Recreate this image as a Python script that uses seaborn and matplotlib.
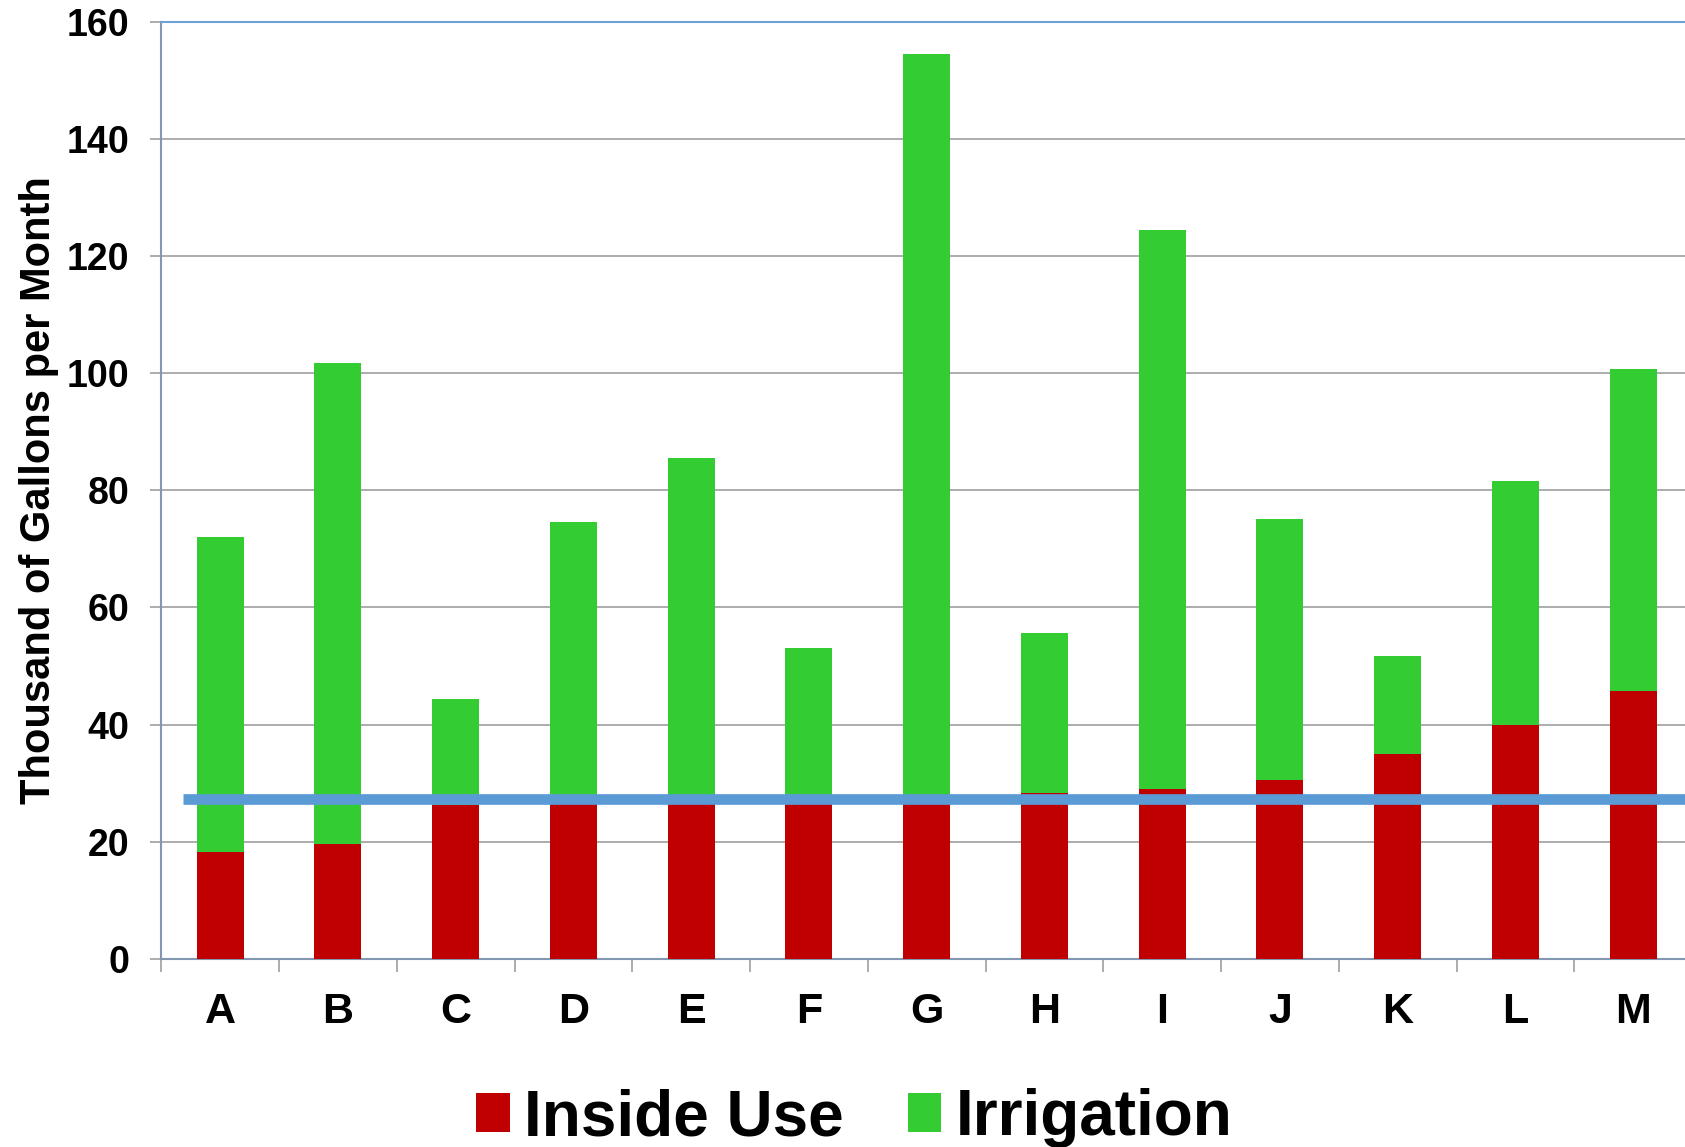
import matplotlib
matplotlib.use("Agg")
import matplotlib.pyplot as plt
import seaborn as sns
import pandas as pd
import numpy as np
from matplotlib.patches import Patch

categories = ["A", "B", "C", "D", "E", "F", "G", "H", "I", "J", "K", "L", "M"]
inside_use = [18.2, 19.6, 26.2, 26.4, 26.8, 26.8, 26.8, 28.3, 29.0, 30.5, 34.9, 39.9, 45.8]
irrigation = [53.8, 82.2, 18.1, 48.2, 58.8, 26.3, 127.7, 27.4, 95.5, 44.6, 16.9, 41.7, 54.9]
reference_line = 27.3
y_ticks = [0, 20, 40, 60, 80, 100, 120, 140, 160]

RED = "#C00000"
GREEN = "#33CC33"
BLUE = "#5B9BD5"

sns.set_theme(style="white")
plt.rcParams["font.family"] = ["Liberation Sans", "DejaVu Sans"]
plt.rcParams["font.weight"] = "bold"
plt.rcParams["text.color"] = "black"
plt.rcParams["axes.labelcolor"] = "black"
plt.rcParams["xtick.labelcolor"] = "black"
plt.rcParams["ytick.labelcolor"] = "black"

df = pd.DataFrame({
    "cat": categories,
    "inside": inside_use,
    "irrigation": irrigation,
})
df["total"] = df["inside"] + df["irrigation"]

fig = plt.figure(figsize=(16.85, 11.47), dpi=100)
ax = fig.add_axes([0.0957, 0.164, 0.9043, 0.817])

sns.barplot(data=df, x="cat", y="total", color=GREEN, width=0.4, ax=ax,
            saturation=1, edgecolor="none", linewidth=0, zorder=2)
sns.barplot(data=df, x="cat", y="inside", color=RED, width=0.4, ax=ax,
            saturation=1, edgecolor="none", linewidth=0, zorder=3)

ax.set_xlim(-0.5, 12.44)
ax.set_ylim(0, 160)
ax.set_yticks(y_ticks)
ax.set_yticklabels([str(v) for v in y_ticks])

ax.axhline(reference_line, xmin=0.0145, xmax=1.0, color=BLUE, linewidth=7.7,
           zorder=4, solid_capstyle="butt")

ax.yaxis.grid(True, color="#A6A6A6", linewidth=1.3, zorder=0)
ax.set_axisbelow(True)

ax.spines["right"].set_visible(False)
ax.spines["top"].set_color("#6FA0D8")
ax.spines["top"].set_linewidth(1.5)
ax.spines["left"].set_color("#8497B0")
ax.spines["left"].set_linewidth(1.5)
ax.spines["bottom"].set_color("#8497B0")
ax.spines["bottom"].set_linewidth(1.5)

ax.tick_params(axis="y", which="major", left=True, length=8, width=1.3,
               color="#A6A6A6", pad=15, labelsize=27, labelcolor="black")
ax.tick_params(axis="x", which="major", bottom=True, length=0, pad=24,
               labelsize=31, labelcolor="black")
ax.set_xticks(np.arange(-0.5, 12.5, 1.0), minor=True)
ax.tick_params(axis="x", which="minor", bottom=True, length=9, width=1.3,
               color="#A6A6A6", direction="out")
for lbl in ax.get_xticklabels() + ax.get_yticklabels():
    lbl.set_fontweight("bold")

ax.set_xlabel("")
ax.set_ylabel("Thousand of Gallons per Month", fontsize=30, fontweight="bold",
              color="black")
ax.yaxis.set_label_coords(-0.067, 0.5)

handles = [Patch(facecolor=RED, edgecolor="none"), Patch(facecolor=GREEN, edgecolor="none")]
fig.legend(handles, ["Inside Use", "Irrigation"], loc="center",
           bbox_to_anchor=(0.507, 0.025), ncol=2, frameon=False,
           prop={"size": 46, "weight": "bold"}, handlelength=0.53,
           handleheight=0.55, handletextpad=0.22, columnspacing=1.0,
           labelcolor="black")

fig.savefig("out.png", dpi=100)
